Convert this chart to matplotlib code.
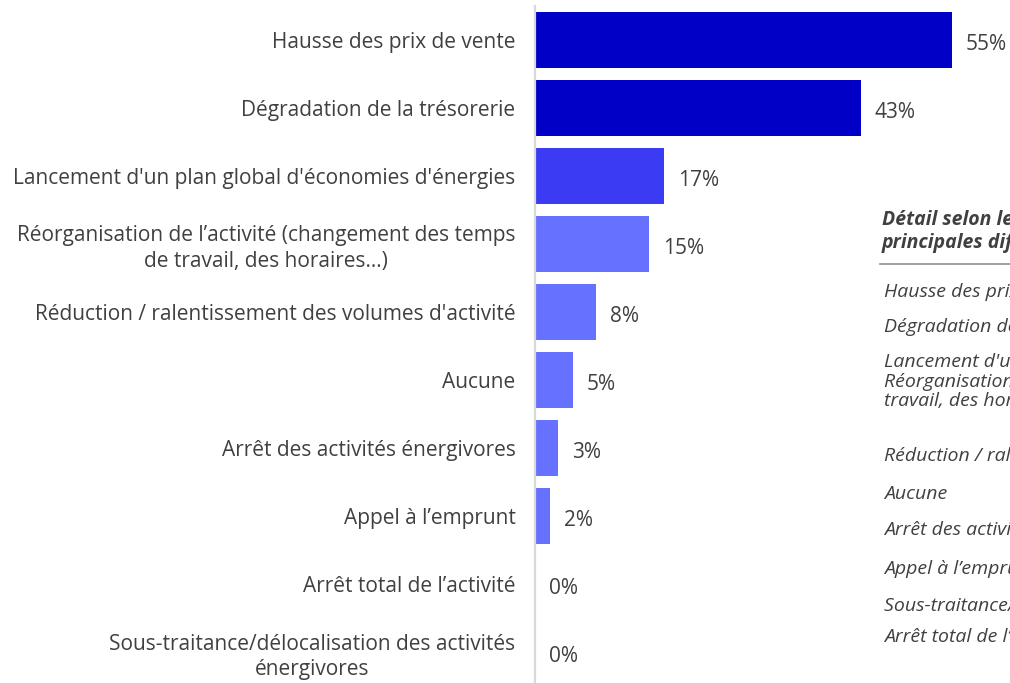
import matplotlib
matplotlib.use("Agg")
import matplotlib.pyplot as plt

plt.rcParams['font.family'] = ['Open Sans', 'DejaVu Sans']

categories = [
    "Hausse des prix de vente",
    "Dégradation de la trésorerie",
    "Lancement d'un plan global d'économies d'énergies",
    "Réorganisation de l\u2019activité (changement des temps\nde travail, des horaires\u2026)",
    "Réduction / ralentissement des volumes d'activité",
    "Aucune",
    "Arrêt des activités énergivores",
    "Appel à l\u2019emprunt",
    "Arrêt total de l\u2019activité",
    "Sous-traitance/délocalisation des activités\nénergivores",
]
values = [55, 43, 17, 15, 8, 5, 3, 2, 0, 0]
colors = ["#0000C6", "#0000C6", "#3B3BF4"] + ["#6672FF"] * 7

table_title = ["Détail selon les", "principales difficultés"]
table_rows = [
    "Hausse des prix de vente",
    "Dégradation de la trésorerie",
    "Lancement d'un plan global d'économies d'énergies",
    "Réorganisation de l\u2019activité (changement des temps de",
    "travail, des horaires\u2026)",
    "Réduction / ralentissement des volumes d'activité",
    "Aucune",
    "Arrêt des activités énergivores",
    "Appel à l\u2019emprunt",
    "Sous-traitance/délocalisation des activités énergivores",
    "Arrêt total de l\u2019activité",
]
table_y = [292, 327, 362, 382, 401, 456, 494, 530, 569, 606, 637]

W, H = 1010, 683
txt = "#404040"
fs = 15
fs_tab = 14

fig = plt.figure(figsize=(W / 100, H / 100), dpi=100)
ax = fig.add_axes([535 / W, -3 / H, 475 / W, 680 / H])

pos = list(range(len(categories)))
ax.barh(pos, values, height=0.82, color=colors)
ax.set_xlim(0, 475 / 7.58)
ax.set_ylim(len(categories) - 0.5, -0.5)

for p, v in zip(pos, values):
    ax.annotate(f"{v}%", (v, p), xytext=(10, -3), textcoords="offset points",
                va="center", ha="left", fontsize=fs, color=txt)

ax.set_yticks(pos)
ax.set_yticklabels(categories, fontsize=fs, color=txt, linespacing=1.25)
for lab in ax.get_yticklabels():
    lab.set_multialignment("center")
ax.tick_params(axis="y", length=0, pad=14)
ax.set_xticks([])
for s in ["top", "right", "bottom"]:
    ax.spines[s].set_visible(False)
ax.spines["left"].set_color("#D9D9D9")
ax.spines["left"].set_linewidth(1.6)

# tableau de détail (coupé au bord droit)
fig.text(882 / W, 1 - 220 / H, table_title[0], fontsize=fs_tab, fontweight="bold",
         style="italic", color=txt, va="center")
fig.text(882 / W, 1 - 243 / H, table_title[1], fontsize=fs_tab, fontweight="bold",
         style="italic", color=txt, va="center")
fig.add_artist(plt.Line2D([880 / W, 1.0], [1 - 264 / H, 1 - 264 / H],
                          color="#909090", lw=1.2))
for t, y in zip(table_rows, table_y):
    fig.text(884 / W, 1 - y / H, t, fontsize=fs_tab, style="italic", color=txt,
             va="center")

fig.savefig("out.png", dpi=100)
